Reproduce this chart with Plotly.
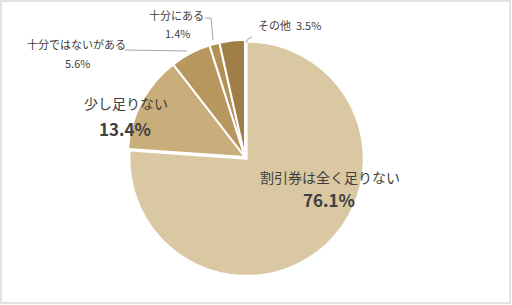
import plotly.graph_objects as go

labels = ["割引券は全く足りない", "少し足りない", "十分ではないがある", "十分にある", "その他"]
values = [76.1, 13.4, 5.6, 1.4, 3.5]
colors = ["#D9C8A1", "#C9AD7A", "#B8975F", "#B19155", "#9F7F45"]

W, H = 512, 305
def px(x):
    return x / W
def py(y):
    return 1 - y / H

cx, cy, R = 245, 157, 119.5

fig = go.Figure(go.Pie(
    labels=labels, values=values, sort=False, direction="clockwise", rotation=0,
    marker=dict(colors=colors, line=dict(color="white", width=2)),
    textinfo="none", hoverinfo="label+percent", pull=[0.02, 0, 0, 0, 0],
    domain=dict(x=[px(cx - R), px(cx + R)], y=[py(cy + R), py(cy - R)]),
    showlegend=False,
))

font_jp = "Noto Sans CJK JP"
txt = "#404040"
ann = [
    ("十分にある", 176, 15, 11, False),
    (f"{values[3]}%", 177, 33, 11, False),
    ("十分ではないがある", 76, 44, 11, False),
    (f"{values[2]}%", 77, 63, 11, False),
    ("少し足りない", 126, 103, 14, False),
    (f"{values[1]}%", 125, 128, 17, True),
    (f"その他  {values[4]}%", 289, 25, 11, False),
    ("割引券は全く足りない", 330, 177, 14, False),
    (f"{values[0]}%", 329, 200, 17, True),
]
annotations = []
for t, x, y, s, b in ann:
    annotations.append(dict(
        text=f"<b>{t}</b>" if b else t, x=px(x), y=py(y), xref="paper", yref="paper",
        xanchor="center", yanchor="middle", showarrow=False,
        font=dict(family=font_jp, size=s, color=txt),
    ))

shapes = [
    dict(type="rect", xref="paper", yref="paper", x0=px(1), x1=px(510), y0=py(303), y1=py(1),
         line=dict(color="#D9D9D9", width=1.5)),
    dict(type="path", xref="paper", yref="paper",
         path=f"M {px(125)} {py(50)} L {px(187)} {py(51)}", line=dict(color="#A6A6A6", width=1)),
    dict(type="path", xref="paper", yref="paper",
         path=f"M {px(205)} {py(18)} L {px(211)} {py(18)} L {px(213)} {py(40)}", line=dict(color="#A6A6A6", width=1)),
    dict(type="path", xref="paper", yref="paper",
         path=f"M {px(246)} {py(43)} Q {px(247)} {py(38)} {px(252)} {py(37)}", line=dict(color="#A6A6A6", width=1)),
]

fig.update_layout(
    width=W, height=H, margin=dict(l=0, r=0, t=0, b=0),
    paper_bgcolor="white", plot_bgcolor="white",
    annotations=annotations, shapes=shapes,
)
fig.write_html("out.html")
